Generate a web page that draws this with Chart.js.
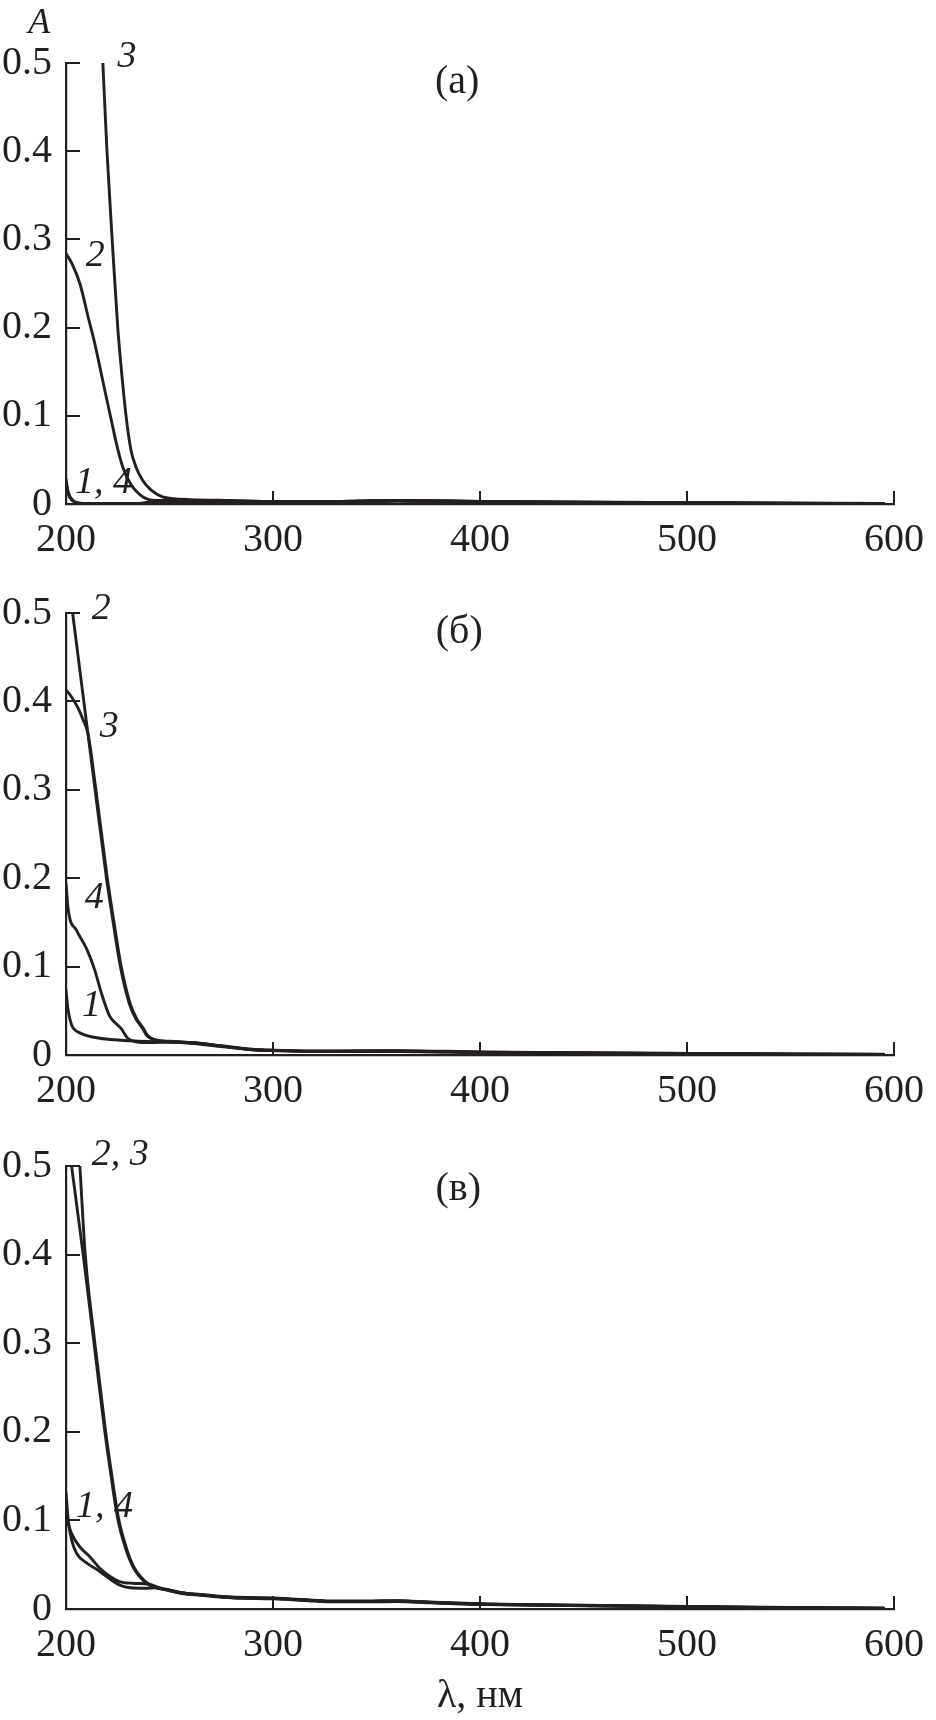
<!DOCTYPE html>
<html><head><meta charset="utf-8">
<script src="https://cdn.jsdelivr.net/npm/chart.js@4"></script>
<style>
html,body{margin:0;padding:0;background:#fff;}
#wrap{position:relative;width:936px;height:1720px;overflow:hidden;}
canvas{position:absolute;left:0;}
</style></head><body>
<div id="wrap">
<canvas id="ca" width="936" height="560" style="top:0px"></canvas>
<canvas id="cb" width="936" height="560" style="top:560px"></canvas>
<canvas id="cc" width="936" height="600" style="top:1120px"></canvas>
</div>
<script>
// ---------- axis ticks / texts ----------
const xTicks = [200, 300, 400, 500, 600];
const xTickLabels = ['200', '300', '400', '500', '600'];
const yTicks = [0, 0.1, 0.2, 0.3, 0.4, 0.5];
const yTickLabels = ['0', '0.1', '0.2', '0.3', '0.4', '0.5'];
const xAxisTitle = 'λ, нм';
const yAxisTitle = 'A';
const panelLabels = ['(а)', '(б)', '(в)'];

// ---------- panel (а) ----------
const a1_wl = [200, 200.8, 202, 204, 207, 215, 230, 240, 250, 270, 300, 330, 360, 400, 450, 500, 550, 595];
const a1_A  = [0.028, 0.016, 0.008, 0.003, 0.001, 0.0005, 0.0005, 0.001, 0.002, 0.002, 0.002, 0.002, 0.003, 0.002, 0.0015, 0.001, 0.0005, 0.0];
const a2_wl = [200, 203, 206.7, 210.7, 213.9, 216.3, 219.1, 221.9, 224.3, 227.4, 231.4, 237.0, 243.4, 250, 260, 280, 300, 330, 360, 400, 450, 500, 550, 595];
const a2_A  = [0.284, 0.272, 0.250, 0.212, 0.182, 0.156, 0.125, 0.095, 0.069, 0.042, 0.022, 0.0083, 0.004, 0.004, 0.004, 0.003, 0.003, 0.003, 0.004, 0.003, 0.002, 0.0015, 0.001, 0.0005];
const a3_wl = [217.8, 219.8, 222.3, 225.0, 226.6, 229.0, 231.4, 233.8, 237.0, 241.0, 246.6, 252, 260, 280, 300, 330, 360, 400, 450, 500, 550, 595];
const a3_A  = [0.500, 0.400, 0.300, 0.200, 0.156, 0.100, 0.061, 0.042, 0.027, 0.016, 0.008, 0.006, 0.005, 0.004, 0.003, 0.003, 0.004, 0.003, 0.002, 0.0015, 0.001, 0.0005];
const a4_wl = [200, 201, 203, 206, 215, 232, 240, 248, 260, 300, 330, 360, 400, 450, 500, 550, 595];
const a4_A  = [0.025, 0.012, 0.004, 0.001, 0.0, 0.0, 0.002, 0.004, 0.004, 0.003, 0.003, 0.004, 0.003, 0.002, 0.001, 0.0008, 0.0];

// ---------- panel (б) ----------
const b1_wl = [200, 201, 202.7, 204.5, 206.7, 210, 216.3, 225, 235, 243, 250, 262, 275, 290, 300, 330, 360, 400, 450, 500, 550, 595];
const b1_A  = [0.0735, 0.051, 0.034, 0.028, 0.025, 0.022, 0.019, 0.017, 0.0155, 0.015, 0.015, 0.0135, 0.010, 0.006, 0.005, 0.004, 0.004, 0.003, 0.002, 0.0015, 0.001, 0.0005];
const b2_wl = [203.2, 208.6, 214.0, 219.5, 222.6, 226.2, 230.6, 234, 237, 239, 243, 250, 262, 275, 290, 300, 330, 360, 400, 450, 500, 550, 595];
const b2_A  = [0.500, 0.400, 0.301, 0.201, 0.153, 0.101, 0.058, 0.040, 0.030, 0.022, 0.017, 0.015, 0.0135, 0.010, 0.006, 0.005, 0.004, 0.0045, 0.003, 0.002, 0.0015, 0.001, 0.0005];
const b3_wl = [200, 202.7, 205.9, 208.3, 210.6, 214.4, 219.9, 223, 226.6, 231, 234.4, 237.4, 239.4, 243.4, 250, 262, 275, 290, 300, 330, 360, 400, 450, 500, 550, 595];
const b3_A  = [0.413, 0.405, 0.392, 0.379, 0.364, 0.301, 0.201, 0.153, 0.101, 0.058, 0.040, 0.030, 0.022, 0.017, 0.0155, 0.014, 0.0105, 0.0065, 0.0055, 0.0045, 0.005, 0.0035, 0.0025, 0.0018, 0.0012, 0.0008];
const b4_wl = [200, 201.1, 205.1, 210.2, 213.9, 217.1, 221.1, 226.6, 229.8, 234, 240, 250, 262, 275, 290, 300, 330, 360, 400, 450, 500, 550, 595];
const b4_A  = [0.194, 0.164, 0.141, 0.119, 0.096, 0.070, 0.044, 0.030, 0.019, 0.015, 0.014, 0.0145, 0.013, 0.0095, 0.0062, 0.0052, 0.0042, 0.0042, 0.0032, 0.0022, 0.0016, 0.001, 0.0006];

// ---------- panel (в) ----------
const c1_wl = [200, 201.1, 202.7, 205.1, 209.9, 214.7, 221.1, 226, 231, 238.6, 243, 250, 256, 265, 280, 300, 320, 328, 345, 360, 376, 400, 450, 500, 550, 595];
const c1_A  = [0.131, 0.100, 0.078, 0.063, 0.052, 0.045, 0.034, 0.027, 0.024, 0.0235, 0.024, 0.021, 0.018, 0.016, 0.013, 0.012, 0.0095, 0.0085, 0.0085, 0.009, 0.0075, 0.0056, 0.004, 0.0025, 0.0015, 0.0008];
const c2_wl = [202.7, 208.3, 213.5, 218.7, 221.1, 225.0, 229.0, 232.2, 235.4, 240.2, 245, 250, 256, 265, 280, 300, 320, 328, 345, 360, 376, 400, 450, 500, 550, 595];
const c2_A  = [0.500, 0.400, 0.301, 0.201, 0.161, 0.102, 0.067, 0.048, 0.037, 0.027, 0.023, 0.021, 0.018, 0.016, 0.013, 0.012, 0.0095, 0.0085, 0.0085, 0.009, 0.0075, 0.0056, 0.004, 0.0025, 0.0015, 0.0008];
const c3_wl = [206.7, 209.3, 213.9, 219.1, 221.5, 225.4, 229.4, 232.6, 235.8, 240.6, 245, 250, 256, 265, 280, 300, 320, 328, 345, 360, 376, 400, 450, 500, 550, 595];
const c3_A  = [0.500, 0.400, 0.301, 0.201, 0.161, 0.102, 0.067, 0.048, 0.037, 0.027, 0.0235, 0.0215, 0.0185, 0.0165, 0.0135, 0.0125, 0.010, 0.009, 0.009, 0.0095, 0.008, 0.006, 0.0043, 0.0028, 0.0017, 0.001];
const c4_wl = [200, 202.7, 206.7, 211.5, 216.3, 221.1, 225.8, 232.2, 240.2, 245, 250, 256, 265, 280, 300, 320, 328, 345, 360, 376, 400, 450, 500, 550, 595];
const c4_A  = [0.104, 0.085, 0.070, 0.059, 0.046, 0.037, 0.031, 0.029, 0.028, 0.024, 0.0205, 0.0175, 0.0155, 0.0125, 0.0115, 0.009, 0.008, 0.008, 0.0085, 0.007, 0.0052, 0.0037, 0.0022, 0.0012, 0.0006];

// ---------- styling ----------
const INK = '#231f20';
const SERIF = "'Liberation Serif', 'Times New Roman', serif";
const ITAL = "italic 38px " + SERIF;
const UPR = "40px " + SERIF;

function pts(wl, A) { return wl.map((x, i) => ({ x: x, y: A[i] })); }
function ds(wl, A) {
  return { data: pts(wl, A), borderColor: INK, borderWidth: 2.9, pointRadius: 0,
           fill: false, cubicInterpolationMode: 'monotone', borderJoinStyle: 'round', borderCapStyle: 'round' };
}

function decoPlugin(labels) {
  return {
    id: 'deco',
    afterDraw(chart) {
      const ctx = chart.ctx, ca = chart.chartArea;
      const xs = chart.scales.x, ys = chart.scales.y;
      ctx.save();
      ctx.strokeStyle = INK; ctx.lineWidth = 2;
      ctx.beginPath();
      yTicks.forEach(v => {
        if (v === 0) return;
        const p = Math.round(ys.getPixelForValue(v));
        ctx.moveTo(ca.left, p); ctx.lineTo(ca.left + 14, p);
      });
      xTicks.forEach(v => {
        if (v === 200) return;
        const p = Math.round(xs.getPixelForValue(v));
        ctx.moveTo(p, ca.bottom); ctx.lineTo(p, ca.bottom - 13);
      });
      ctx.stroke();
      ctx.fillStyle = INK; ctx.textBaseline = 'alphabetic';
      labels.forEach(l => {
        ctx.font = l.font; ctx.textAlign = l.align;
        ctx.fillText(l.text, xs.getPixelForValue(l.x), ys.getPixelForValue(l.y));
      });
      ctx.restore();
    }
  };
}

function makeChart(id, datasets, labels, padTop, xHeight, showTitle) {
  return new Chart(document.getElementById(id), {
    type: 'line',
    data: { datasets: datasets },
    plugins: [decoPlugin(labels)],
    options: {
      responsive: false, animation: false, events: [],
      layout: { padding: { top: padTop, left: 0, right: 34, bottom: 0 } },
      plugins: { legend: { display: false }, tooltip: { enabled: false } },
      scales: {
        x: {
          type: 'linear', min: 200, max: 600,
          afterBuildTicks: s => { s.ticks = xTicks.map(v => ({ value: v })); },
          afterFit: s => { s.height = xHeight; },
          grid: { display: true, drawOnChartArea: false, drawTicks: false },
          border: { display: true, color: INK, width: 2.2 },
          ticks: { color: INK, font: { family: SERIF, size: 40 }, padding: 12, maxRotation: 0, autoSkip: false,
                   callback: (v, i) => xTickLabels[i] },
          title: { display: showTitle, text: xAxisTitle, color: INK, font: { family: SERIF, size: 40 }, padding: { top: 0, bottom: 0 } }
        },
        y: {
          type: 'linear', min: 0, max: 0.5,
          afterBuildTicks: s => { s.ticks = yTicks.map(v => ({ value: v })); },
          afterFit: s => { s.width = 66; },
          grid: { display: true, drawOnChartArea: false, drawTicks: false },
          border: { display: true, color: INK, width: 2.2 },
          ticks: { color: INK, font: { family: SERIF, size: 40 }, padding: 14, autoSkip: false,
                   callback: (v, i) => yTickLabels[i] }
        }
      }
    }
  });
}

// ---------- panel (а) ----------
makeChart('ca',
  [ds(a1_wl, a1_A), ds(a2_wl, a2_A), ds(a3_wl, a3_A), ds(a4_wl, a4_A)],
  [
    { text: yAxisTitle, x: 181.8, y: 0.534, font: "italic 36px " + SERIF, align: 'left' },
    { text: '3', x: 224.9, y: 0.496, font: ITAL, align: 'left' },
    { text: '2', x: 209.6, y: 0.270, font: ITAL, align: 'left' },
    { text: '1, 4', x: 204.3, y: 0.0125, font: ITAL, align: 'left' },
    { text: panelLabels[0], x: 389, y: 0.466, font: UPR, align: 'center' }
  ], 63, 56, false);

// ---------- panel (б) ----------
makeChart('cb',
  [ds(b1_wl, b1_A), ds(b2_wl, b2_A), ds(b3_wl, b3_A), ds(b4_wl, b4_A)],
  [
    { text: '2', x: 212.4, y: 0.493, font: ITAL, align: 'left' },
    { text: '3', x: 216.3, y: 0.360, font: ITAL, align: 'left' },
    { text: '4', x: 209.1, y: 0.166, font: ITAL, align: 'left' },
    { text: '1', x: 207.7, y: 0.044, font: ITAL, align: 'left' },
    { text: panelLabels[1], x: 390, y: 0.466, font: UPR, align: 'center' }
  ], 53, 65, false);

// ---------- panel (в) ----------
makeChart('cc',
  [ds(c1_wl, c1_A), ds(c2_wl, c2_A), ds(c3_wl, c3_A), ds(c4_wl, c4_A)],
  [
    { text: '2, 3', x: 212.4, y: 0.501, font: ITAL, align: 'left' },
    { text: '1, 4', x: 204.8, y: 0.104, font: ITAL, align: 'left' },
    { text: panelLabels[2], x: 389.5, y: 0.462, font: UPR, align: 'center' }
  ], 46, 111, true);
</script>
</body></html>
